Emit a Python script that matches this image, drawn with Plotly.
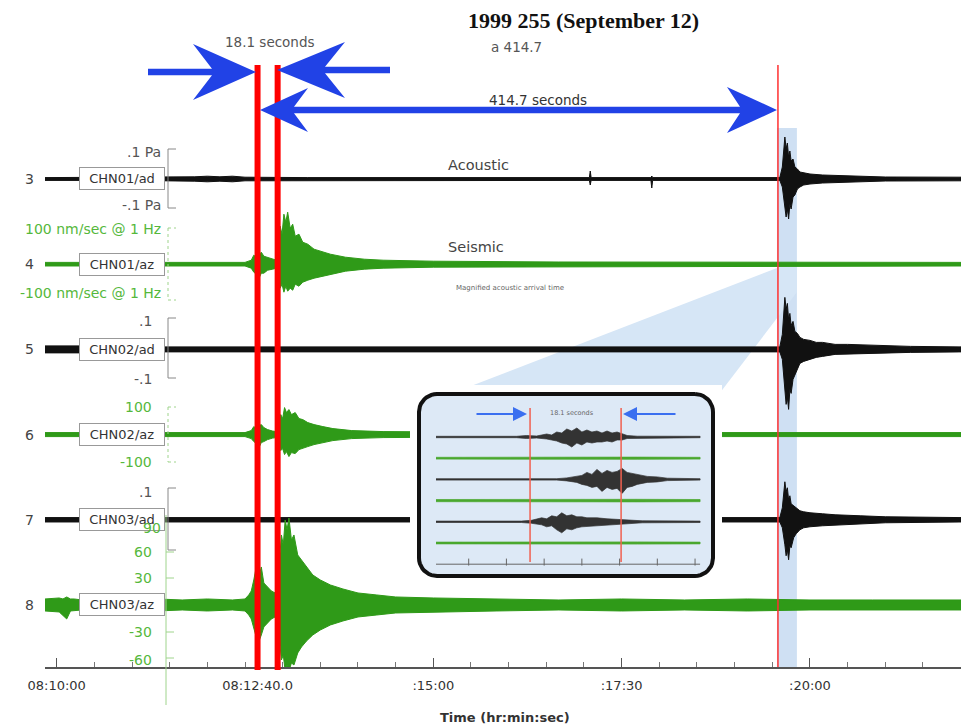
import math
import plotly.graph_objects as go

# ---------------------------------------------------------------- data
station_rows = [3, 4, 5, 6, 7, 8]
channel_names = ["CHN01/ad", "CHN01/az", "CHN02/ad", "CHN02/az", "CHN03/ad", "CHN03/az"]
channel_kind = ["ad", "az", "ad", "az", "ad", "az"]

# x axis (seconds after 08:10:00)
tick_seconds = [0, 160, 300, 450, 600]
tick_labels = ["08:10:00", "08:12:40.0", ":15:00", ":17:30", ":20:00"]
minor_tick_seconds = [30, 60, 90, 120, 150, 180, 210, 240, 270, 330, 360, 390, 420,
                      480, 510, 540, 570, 630, 660, 690, 720]

# arrival picks (seconds after 08:10:00)
seismic_pick_1 = 160.0
seismic_pick_2 = 176.0
acoustic_pick = 574.5
magnified_window = [573.7, 589.6]

# trace envelopes: knot time (s), upward and downward excursion (display px)
env_t = {
    3: [-9.3, 20, 60, 110, 120, 130, 140, 150, 200, 260, 330, 400, 424.3, 425, 425.7,
        473.3, 474, 474.7, 540, 576, 578, 579, 580, 581, 582, 583, 584, 585, 586.5, 588,
        590, 592, 595, 600, 610, 620, 640, 660, 720.3],
    4: [-9.3, 60, 150, 155, 157, 159, 160, 161.5, 163, 165, 168, 172, 175, 176.5, 178,
        179.5, 181, 182.5, 184, 186, 188, 190, 193, 196, 200, 205, 210, 218, 230, 245,
        260, 300, 400, 500, 600, 720.3],
    5: [-9.3, 20, 60, 150, 300, 450, 576, 578, 579, 580, 581, 582, 583, 584, 585, 586.5,
        588, 590, 592, 595, 600, 605, 610, 620, 630, 650, 680, 720.3],
    6: [-9.3, 60, 150, 155, 157, 159, 160, 161.5, 163, 165, 168, 172, 175, 177, 178.5,
        180, 181.5, 183, 185, 187, 190, 193, 196, 200, 205, 212, 220, 235, 260, 400, 720.3],
    7: [-9.3, 60, 300, 576, 578, 579, 580, 581, 582, 583, 584, 585, 587, 589, 592, 595,
        600, 610, 620, 640, 660, 720.3],
    8: [-9.3, 2, 5, 8, 11, 14, 20, 40, 60, 80, 100, 120, 140, 150, 153, 155, 157, 158.5,
        160, 161.5, 163, 165, 168, 171, 174, 176, 177.5, 179, 180.5, 182, 183.5, 185, 187,
        189, 192, 195, 199, 204, 210, 218, 228, 240, 255, 270, 300, 350, 400, 450, 500,
        550, 600, 650, 720.3],
}
env_up = {
    3: [1.4, 1.6, 1.4, 2.2, 2.8, 2.2, 2.8, 1.8, 1.4, 1.4, 1.6, 1.4, 1.4, 8, 1.4, 1.4, 3, 1.4, 1.4,
        1.4, 12, 28, 42, 30, 36, 22, 28, 18, 20, 12, 10, 7, 6, 5, 4, 3.5, 2.5, 2, 1.8],
    4: [1.8, 1.8, 1.8, 4, 9, 7, 14, 10, 12, 8, 7, 5, 4, 22, 38, 30, 50, 42, 52, 36, 40,
        28, 30, 22, 20, 15, 13, 10, 7, 5, 4, 3, 2.2, 2.2, 2.2, 1.8],
    5: [3.5, 3.5, 2.5, 2.5, 2.5, 2.5, 2.5, 15, 35, 52, 40, 46, 30, 36, 24, 28, 18, 16, 12,
        10, 9, 7, 7, 5, 5, 4, 3, 2.5],
    6: [2, 2, 2, 4, 8, 6, 12, 9, 10, 7, 5, 3.5, 3, 12, 20, 16, 27, 22, 25, 20, 22, 16, 15,
        12, 10, 8, 6, 4, 3, 2, 2],
    7: [2.2, 2.2, 2.2, 2.2, 12, 25, 38, 28, 32, 20, 24, 16, 14, 12, 9, 8, 7, 6, 5, 4, 3, 2.2],
    8: [6, 7, 6, 8, 6, 6, 5, 6, 5, 6, 5, 6, 5, 6, 10, 14, 25, 36, 45, 30, 38, 22, 18, 14,
        12, 18, 45, 70, 60, 85, 75, 87, 65, 70, 50, 45, 38, 30, 25, 20, 16, 12, 10, 8, 7,
        6, 5, 6, 5, 6, 5, 5, 5],
}
env_dn = {
    3: [1.4, 1.6, 1.4, 2.2, 2.8, 2.2, 2.8, 1.8, 1.4, 1.4, 1.6, 1.4, 1.4, 6, 1.4, 1.4, 9, 1.4, 1.4,
        1.4, 8, 20, 26, 38, 30, 40, 25, 30, 18, 16, 10, 8, 6, 5, 4, 3.5, 2.5, 2, 1.8],
    4: [1.8, 1.8, 1.8, 4, 8, 10, 12, 13, 9, 9, 6, 5, 4, 15, 24, 20, 28, 22, 27, 24, 26,
        20, 22, 18, 16, 14, 12, 10, 7, 5, 4, 3, 2.2, 2.2, 2.2, 1.8],
    5: [3.5, 3.5, 2.5, 2.5, 2.5, 2.5, 2.5, 10, 25, 38, 55, 48, 60, 40, 44, 30, 25, 20, 14,
        12, 10, 8, 7, 5, 5, 4, 3, 2.5],
    6: [2, 2, 2, 4, 7, 9, 11, 12, 8, 7, 5, 3.5, 3, 10, 16, 14, 20, 17, 22, 18, 19, 15, 14,
        12, 10, 8, 6, 4, 3, 2, 2],
    7: [2.2, 2.2, 2.2, 2.2, 8, 18, 25, 36, 30, 40, 26, 28, 18, 14, 10, 8, 7, 6, 5, 4, 3, 2.2],
    8: [6, 7, 10, 14, 6, 6, 5, 6, 5, 6, 5, 6, 5, 6, 10, 14, 22, 30, 40, 36, 30, 22, 18, 14,
        12, 15, 35, 55, 50, 66, 60, 66, 58, 60, 48, 42, 36, 30, 25, 20, 16, 12, 10, 8, 7,
        6, 5, 6, 5, 6, 5, 5, 5],
}

# scale labels for each channel: (text, display px offset from trace)
scale_labels = {
    3: [(".1 Pa", -27), ("-.1 Pa", 26)],
    4: [("100 nm/sec @ 1 Hz", -35), ("-100 nm/sec @ 1 Hz", 29)],
    5: [(".1", -28), ("-.1", 30)],
    6: [("100", -28), ("-100", 27)],
    7: [(".1", -28)],
    8: [("90", -77), ("60", -53), ("30", -27), ("-30", 27), ("-60", 55)],
}

# magnified inset: local seconds, 6 channels
inset_t = {
    1: [0, 16, 18, 20, 22, 23, 24, 25, 26, 27, 28, 29, 30, 31, 32, 33, 34, 35, 36, 37, 38, 40, 52.5],
    3: [0, 24, 26, 28, 29, 30, 31, 32, 33, 34, 35, 36, 37, 38, 39, 40, 41, 42, 44, 46, 52.5],
    5: [0, 17, 19, 21, 22, 23, 24, 25, 26, 27, 28, 29, 30, 32, 34, 36, 38, 41, 52.5],
    2: [0, 12, 25, 40, 52.5],
    4: [0, 12, 25, 40, 52.5],
    6: [0, 12, 25, 40, 52.5],
}
inset_up = {
    1: [0.7, 0.7, 1.5, 1, 3, 2, 5, 4, 8, 6, 9, 5, 7, 5, 6, 4, 6, 4, 5, 3, 1.5, 0.8, 0.7],
    3: [0.7, 0.7, 1.5, 3, 4, 7, 5, 10, 6, 9, 7, 8, 11, 7, 6, 5, 4, 3, 2.5, 1.2, 0.7],
    5: [0.7, 0.7, 1.5, 4, 3, 6, 5, 9, 6, 7, 5, 5, 4, 4, 3, 2.5, 2, 1, 0.7],
    2: [0.9, 1.1, 0.9, 1.1, 0.9],
    4: [1.1, 1.3, 1.1, 1.3, 1.1],
    6: [0.9, 1.1, 0.9, 1.1, 0.9],
}
inset_dn = {
    1: [0.7, 0.7, 1.5, 1, 2, 3, 4, 6, 7, 10, 6, 8, 5, 6, 5, 5, 4, 5, 3, 3, 1.5, 0.8, 0.7],
    3: [0.7, 0.7, 1.5, 3, 5, 6, 8, 7, 12, 8, 10, 9, 14, 8, 7, 5, 4, 3, 2.5, 1.2, 0.7],
    5: [0.7, 0.7, 1.5, 3, 5, 4, 8, 11, 7, 8, 6, 5, 4, 4, 3, 2.5, 2, 1, 0.7],
    2: [0.9, 1.1, 0.9, 1.1, 0.9],
    4: [1.1, 1.3, 1.1, 1.3, 1.1],
    6: [0.9, 1.1, 0.9, 1.1, 0.9],
}
inset_picks = [18.7, 36.8]
inset_axis_ticks = [6.5, 14, 21.5, 29, 36.5, 44, 51.5]

# ---------------------------------------------------------------- geometry
W, H = 961, 728
ML, MB = 45, 61
PW, PH = W - ML, H - MB
T0, T1 = -9.3, 720.3
R0, R1 = 0.899, 8.728
ROW_PX = PH / (R1 - R0)

IN_X0, IN_PXS, IN_Y0, IN_ROW = 436.0, 5.03, 437.0, 21.2

BLACK = "#111111"
GREEN = "#2f9a18"
TGREEN = "#55b83c"
LGREEN = "#9fd48c"
BLUE = "#2142e6"
GRAY = "#444444"
FONT = "DejaVu Sans, Verdana, sans-serif"


def xp(px):
    return (px - ML) / PW


def yp(py):
    return 1 - py / PH


def ix(px):
    return (px - IN_X0) / IN_PXS


def iy(py):
    return 1 + (py - IN_Y0) / IN_ROW


fig = go.Figure()

# ---------------------------------------------------------------- main traces
for row, kind in zip(station_rows, channel_kind):
    tt, up, dn = env_t[row], env_up[row], env_dn[row]
    assert len(tt) == len(up) == len(dn)
    col = BLACK if kind == "ad" else GREEN
    xs = list(tt) + list(tt[::-1])
    ys = [row - u / ROW_PX for u in up] + [row + d / ROW_PX for d in dn[::-1]]
    fig.add_trace(go.Scatter(x=xs, y=ys, mode="lines", fill="toself", fillcolor=col,
                             line=dict(color=col, width=1), hoverinfo="skip",
                             showlegend=False))

# ---------------------------------------------------------------- inset (subplot 2)
def rounded_rect_px(x0, y0, x1, y1, r, n=10):
    pts = []
    corners = [(x1 - r, y0 + r, -90, 0), (x1 - r, y1 - r, 0, 90),
               (x0 + r, y1 - r, 90, 180), (x0 + r, y0 + r, 180, 270)]
    for cx, cy, a0, a1 in corners:
        for i in range(n + 1):
            a = math.radians(a0 + (a1 - a0) * i / n)
            pts.append((cx + r * math.cos(a), cy + r * math.sin(a)))
    pts.append(pts[0])
    return pts


box = rounded_rect_px(419, 394, 713, 576, 18)
fig.add_trace(go.Scatter(x=[ix(p[0]) for p in box], y=[iy(p[1]) for p in box],
                         mode="lines", fill="toself", fillcolor="#dde9f6",
                         line=dict(color="#111111", width=4), hoverinfo="skip",
                         showlegend=False, xaxis="x2", yaxis="y2"))

for r in [2, 4, 6, 1, 3, 5]:
    tt, up, dn = inset_t[r], inset_up[r], inset_dn[r]
    assert len(tt) == len(up) == len(dn)
    col = "#333333" if r % 2 == 1 else "#4aa82e"
    xs = list(tt) + list(tt[::-1])
    ys = [r - u / IN_ROW for u in up] + [r + d / IN_ROW for d in dn[::-1]]
    fig.add_trace(go.Scatter(x=xs, y=ys, mode="lines", fill="toself", fillcolor=col,
                             line=dict(color=col, width=0.7), hoverinfo="skip",
                             showlegend=False, xaxis="x2", yaxis="y2"))

# inset time axis
fig.add_trace(go.Scatter(x=[0, 52.5], y=[7, 7], mode="lines",
                         line=dict(color="#666666", width=1), hoverinfo="skip",
                         showlegend=False, xaxis="x2", yaxis="y2"))
fig.add_trace(go.Scatter(x=inset_axis_ticks, y=[6.9] * len(inset_axis_ticks), mode="markers",
                         marker=dict(symbol="line-ns", size=5, line=dict(color="#666666", width=1)),
                         hoverinfo="skip", showlegend=False, xaxis="x2", yaxis="y2"))
for tp in inset_picks:
    fig.add_trace(go.Scatter(x=[tp, tp], y=[iy(408), iy(562)], mode="lines",
                             line=dict(color="#f06050", width=1.5), hoverinfo="skip",
                             showlegend=False, xaxis="x2", yaxis="y2"))

# ---------------------------------------------------------------- shapes
shapes = []


def ppath(pts):
    return "M " + " L ".join(f"{xp(x):.5f},{yp(y):.5f}" for x, y in pts) + " Z"


# magnified window band and callout wedge (below traces)
shapes.append(dict(type="rect", layer="below", xref="x", yref="paper",
                   x0=magnified_window[0], x1=magnified_window[1], y0=0, y1=yp(128),
                   fillcolor="#cfe0f3", line=dict(width=0)))
shapes.append(dict(type="path", layer="below", xref="paper", yref="paper",
                   path=ppath([(777, 268), (797, 262), (797, 292), (713, 402), (445, 396)]),
                   fillcolor="#d6e6f6", line=dict(width=0)))

# picks
for tp in [seismic_pick_1, seismic_pick_2]:
    shapes.append(dict(type="line", layer="above", xref="x", yref="paper",
                       x0=tp, x1=tp, y0=yp(670), y1=yp(65),
                       line=dict(color="#ff0000", width=6)))
shapes.append(dict(type="line", layer="above", xref="x", yref="paper",
                   x0=acoustic_pick, x1=acoustic_pick, y0=0, y1=yp(65),
                   line=dict(color="#ff3030", width=1.5)))


def arrow_pts(tail, tip, y, notch, barb, half_shaft=3.2, half_head=28):
    return [(tail, y - half_shaft), (notch, y - half_shaft), (barb, y - half_head),
            (tip, y), (barb, y + half_head), (notch, y + half_shaft), (tail, y + half_shaft)]


shapes.append(dict(type="path", layer="above", xref="paper", yref="paper",
                   path=ppath(arrow_pts(148, 256, 72, 212, 193)),
                   fillcolor=BLUE, line=dict(width=0)))
shapes.append(dict(type="path", layer="above", xref="paper", yref="paper",
                   path=ppath(arrow_pts(390, 277, 70, 325, 345)),
                   fillcolor=BLUE, line=dict(width=0)))
dbl = [(260, 110), (308, 88), (294, 106.8), (740, 106.8), (727, 87), (777, 110),
       (727, 133), (740, 113.2), (294, 113.2), (308, 132)]
shapes.append(dict(type="path", layer="above", xref="paper", yref="paper",
                   path=ppath(dbl), fillcolor=BLUE, line=dict(width=0)))

# scale brackets
brackets = {3: (149, 208, "#888888"), 4: (228, 300, LGREEN), 5: (318, 378, "#888888"),
            6: (407, 462, LGREEN), 7: (488, 550, "#888888")}
for row, (ya, yb, col) in brackets.items():
    dash = "dot" if col == LGREEN else "solid"
    for seg in [(168, ya, 168, yb), (168, ya, 176, ya), (168, yb, 176, yb)]:
        shapes.append(dict(type="line", layer="above", xref="paper", yref="paper",
                           x0=xp(seg[0]), y0=yp(seg[1]), x1=xp(seg[2]), y1=yp(seg[3]),
                           line=dict(color=col, width=1, dash=dash)))
shapes.append(dict(type="line", layer="above", xref="paper", yref="paper",
                   x0=xp(166), x1=xp(166), y0=yp(515), y1=yp(705),
                   line=dict(color=LGREEN, width=1)))
for yy in [552, 578, 632, 658]:
    shapes.append(dict(type="line", layer="above", xref="paper", yref="paper",
                       x0=xp(166), x1=xp(174), y0=yp(yy), y1=yp(yy),
                       line=dict(color=LGREEN, width=1)))

# ---------------------------------------------------------------- annotations
ann = []


def text(px, py, s, size=14, color=GRAY, xanchor="center", family=FONT, **kw):
    ann.append(dict(x=xp(px), y=yp(py), xref="paper", yref="paper", text=s,
                    showarrow=False, xanchor=xanchor, yanchor="middle",
                    font=dict(size=size, color=color, family=family), **kw))


text(583, 21, "<b>1999 255 (September 12)</b>", size=22, color="#111111",
     family="Liberation Serif, Times New Roman, serif")
text(516, 47, "a 414.7", size=13.5, color="#555555")
text(270, 42, "18.1 seconds", size=13.5, color="#555555")
text(538, 100, "414.7 seconds", size=13.5, color="#333333")
text(478, 165, "Acoustic", size=14.5, color="#444444")
text(476, 247, "Seismic", size=14.5, color="#444444")
text(510, 288, "Magnified acoustic arrival time", size=7, color="#666666")
text(572, 413, "18.1 seconds", size=6.5, color="#666666")

for row, name in zip(station_rows, channel_names):
    py = (row - R0) * ROW_PX
    text(29, py, str(row), size=14, color="#444444")
    ann.append(dict(x=xp(122), y=yp(py), xref="paper", yref="paper", text=name,
                    showarrow=False, xanchor="center", yanchor="middle",
                    width=82, height=19, bgcolor="white", bordercolor="#999999",
                    borderwidth=1, borderpad=1,
                    font=dict(size=13, color="#333333", family=FONT)))

for row, kind in zip(station_rows, channel_kind):
    py = (row - R0) * ROW_PX
    col = "#555555" if kind == "ad" else TGREEN
    for s, off in scale_labels[row]:
        right = 163 if (row in (3, 4) or s == "90") else 154
        text(right, py + off, s, size=14, color=col, xanchor="right")

text(505, 717, "<b>Time (hr:min:sec)</b>", size=13, color="#333333")

# inset arrows
for tip, tail in [(527, 475), (623, 677)]:
    ann.append(dict(x=xp(tip), y=yp(414), xref="paper", yref="paper",
                    ax=tail - tip, ay=0, text="", showarrow=True, arrowhead=2,
                    arrowsize=1.4, arrowwidth=2, arrowcolor="#3a6ff0"))

# ---------------------------------------------------------------- layout
fig.update_layout(
    width=W, height=H,
    margin=dict(l=ML, r=0, t=0, b=MB),
    paper_bgcolor="white", plot_bgcolor="white",
    showlegend=False, hovermode=False,
    shapes=shapes, annotations=ann,
    xaxis=dict(range=[T0, T1], domain=[0, 1], showgrid=False, zeroline=False,
               showline=True, linecolor="#555555", linewidth=1.5,
               ticks="inside", ticklen=9, tickwidth=1.2, tickcolor="#555555",
               tickvals=tick_seconds, ticktext=tick_labels,
               tickfont=dict(size=13, color="#333333", family=FONT),
               ticklabelstandoff=6,
               minor=dict(tickvals=minor_tick_seconds, ticks="inside", ticklen=5,
                          tickwidth=1, tickcolor="#777777")),
    yaxis=dict(range=[R1, R0], domain=[0, 1], visible=False),
    xaxis2=dict(domain=[xp(410), xp(722)], range=[ix(410), ix(722)], visible=False,
                anchor="y2"),
    yaxis2=dict(domain=[yp(585), yp(385)], range=[iy(585), iy(385)], visible=False,
                anchor="x2"),
)

fig.write_html("out.html", config={"displayModeBar": False},
               post_script="document.body.style.margin='0';"
                           "document.body.style.overflow='hidden';")
